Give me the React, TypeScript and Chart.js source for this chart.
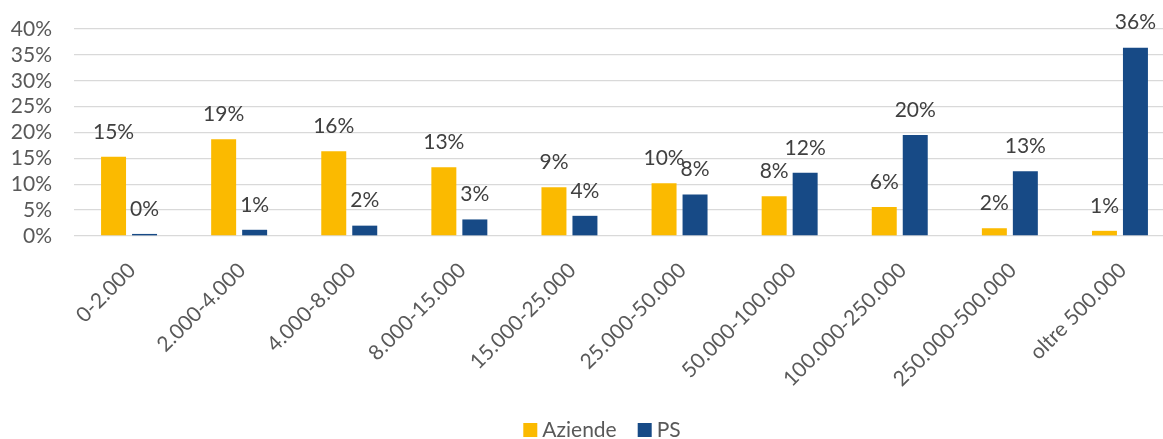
import React, { useEffect, useRef } from "react";
import { Chart, registerables } from "chart.js";

Chart.register(...registerables);

const categories = [
  "0-2.000",
  "2.000-4.000",
  "4.000-8.000",
  "8.000-15.000",
  "15.000-25.000",
  "25.000-50.000",
  "50.000-100.000",
  "100.000-250.000",
  "250.000-500.000",
  "oltre 500.000",
];
const aziende = [15.3, 18.7, 16.4, 13.3, 9.4, 10.2, 7.7, 5.6, 1.5, 1.0];
const ps = [0.4, 1.2, 2.0, 3.2, 3.9, 8.0, 12.2, 19.5, 12.5, 36.4];
const yTicks = [0, 5, 10, 15, 20, 25, 30, 35, 40];

const FONT = "Lato";
const YELLOW = "#FBBA00";
const BLUE = "#174A86";

const valueLabels = {
  id: "valueLabels",
  afterDatasetsDraw(chart: any) {
    const ctx = chart.ctx;
    ctx.save();
    ctx.font = `21px ${FONT}`;
    ctx.fillStyle = "#404040";
    ctx.textAlign = "center";
    ctx.textBaseline = "middle";
    chart.data.datasets.forEach((ds: any, di: number) => {
      const meta = chart.getDatasetMeta(di);
      meta.data.forEach((bar: any, i: number) => {
        ctx.fillText(Math.round(ds.data[i]) + "%", bar.x, bar.y - 25);
      });
    });
    ctx.restore();
  },
};

const customLegend = {
  id: "customLegend",
  afterDraw(chart: any) {
    const ctx = chart.ctx;
    ctx.save();
    ctx.font = `21px ${FONT}`;
    ctx.textBaseline = "middle";
    ctx.textAlign = "left";
    const box = 14;
    const gap = 5;
    const itemGap = 21;
    const items = chart.data.datasets.map((d: any) => ({
      text: d.label,
      color: d.backgroundColor,
      w: box + gap + ctx.measureText(d.label).width,
    }));
    const total = items.reduce((s: number, it: any) => s + it.w, 0) + itemGap * (items.length - 1);
    let x = 602 - total / 2;
    const y = 430;
    items.forEach((it: any) => {
      ctx.fillStyle = it.color;
      ctx.fillRect(x, y - box / 2, box, box);
      ctx.fillStyle = "#595959";
      ctx.fillText(it.text, x + box + gap, y);
      x += it.w + itemGap;
    });
    ctx.restore();
  },
};

export default function App() {
  const ref = useRef<HTMLCanvasElement>(null);
  useEffect(() => {
    document.body.style.margin = "0";
    document.body.style.overflow = "hidden";
    const chart = new Chart(ref.current!, {
      type: "bar",
      data: {
        labels: categories,
        datasets: [
          { label: "Aziende", data: aziende, backgroundColor: YELLOW, barPercentage: 0.806, categoryPercentage: 0.563 },
          { label: "PS", data: ps, backgroundColor: BLUE, barPercentage: 0.806, categoryPercentage: 0.563 },
        ],
      },
      options: {
        responsive: false,
        animation: false,
        layout: { padding: { left: 0, right: 0, top: 29, bottom: 0 } },
        plugins: { legend: { display: false }, tooltip: { enabled: false } },
        scales: {
          x: {
            grid: { display: false },
            border: { display: false },
            ticks: {
              color: "#595959",
              font: { family: FONT, size: 21 },
              minRotation: 45,
              maxRotation: 45,
              autoSkip: false,
              padding: 14,
              labelOffset: 3,
            },
            afterFit(scale: any) {
              scale.height = 439 - 236;
              scale.paddingLeft = 0;
              scale.paddingRight = 0;
            },
          },
          y: {
            min: 0,
            max: 40,
            afterBuildTicks(scale: any) {
              scale.ticks = yTicks.map((v) => ({ value: v }));
            },
            grid: { color: "#D9D9D9", lineWidth: 1.3, drawTicks: false },
            border: { display: false },
            ticks: {
              color: "#595959",
              font: { family: FONT, size: 21 },
              padding: 22,
              autoSkip: false,
              callback: (v: any) => v + "%",
            },
            afterFit(scale: any) {
              scale.width = 74;
              scale.paddingTop = 0;
              scale.paddingBottom = 0;
            },
          },
        },
      },
      plugins: [valueLabels, customLegend],
    });
    return () => chart.destroy();
  }, []);
  return (
    <div style={{ width: 1163, height: 439, overflow: "hidden" }}>
      <canvas ref={ref} width={1175} height={439} style={{ display: "block" }} />
    </div>
  );
}
